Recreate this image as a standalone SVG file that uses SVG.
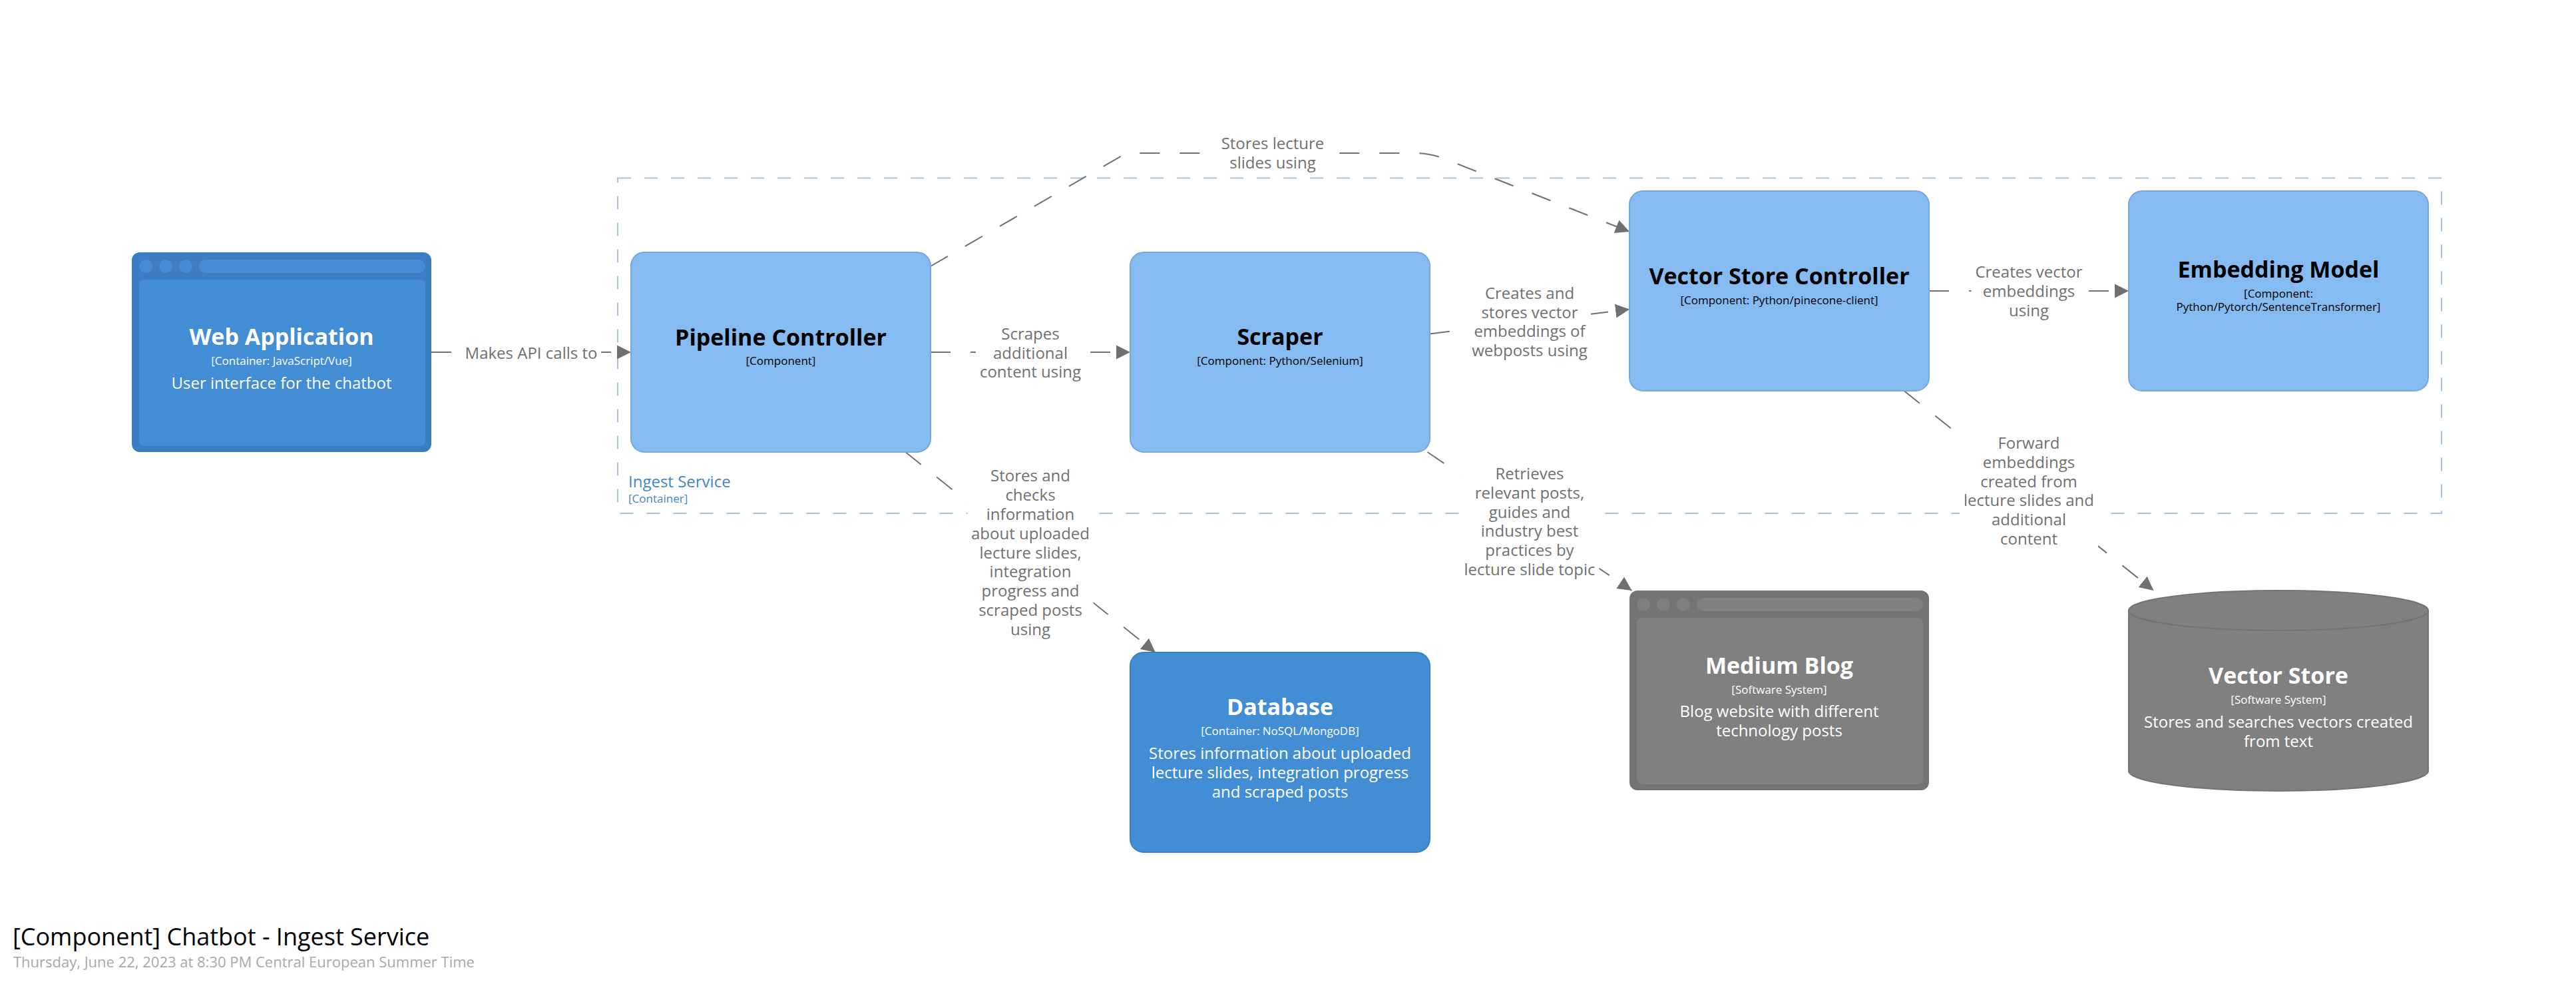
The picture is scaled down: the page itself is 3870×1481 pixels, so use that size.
<svg xmlns="http://www.w3.org/2000/svg" width="3870" height="1481" viewBox="0 0 3870 1481">
<defs>
<marker id="arrow" markerUnits="userSpaceOnUse" markerWidth="22" markerHeight="22" viewBox="0 0 22 22" refX="21" refY="11" orient="auto">
<path d="M0,0.5 L21,11 L0,21.5 Z" fill="#707070"/>
</marker>
</defs>
<style>
text{font-family:"Open Sans","DejaVu Sans",sans-serif;}
.name{font-size:34px;font-weight:700;text-anchor:middle;}
.meta{font-size:17px;text-anchor:middle;}
.desc{font-size:24px;text-anchor:middle;}
.w{fill:#ffffff;}
.k{fill:#000000;}
.comp{fill:#85bbf0;stroke:#78a8d8;stroke-width:2;}
.cont{fill:#438dd5;stroke:#3c7fc0;stroke-width:2;}
.bframe{fill:#3b7dc0;}
.bpart{fill:#438dd5;}
.gframe{fill:#737373;}
.gpart{fill:#808080;}
.edge{fill:none;stroke:#707070;stroke-width:2;stroke-dasharray:30 30;marker-end:url(#arrow);}
.lbg{fill:#ffffff;}
.lbl{font-size:24px;fill:#707070;text-anchor:middle;}
.boundary{fill:none;stroke:#a3c3e3;stroke-width:2;stroke-dasharray:20 20;}
</style>
<rect x="0" y="0" width="3870" height="1481" fill="#ffffff"/>

<g id="ingest-service-boundary">
<rect class="boundary" x="928" y="267.5" width="2740" height="503.5"/>
<text x="944" y="732" style="font-size:24px;fill:#4285cc;">Ingest Service</text>
<text x="944" y="755" style="font-size:17px;fill:#4285cc;">[Container]</text>
</g>

<g id="connectors">
<path class="edge" d="M648,529 L948,529"/>
<path class="edge" d="M1398,529 L1698,529"/>
<path class="edge" d="M1398,400 L1692,230 L2127,230 Q2149,230 2170,238.5 L2448,348"/>
<path class="edge" d="M2148,501.5 L2448,464.6"/>
<path class="edge" d="M2898,437 L3198,437"/>
<path class="edge" d="M2860.5,587 L3235.5,887"/>
<path class="edge" d="M1360.3,679 L1735.8,980"/>
<path class="edge" d="M2144.5,679 L2451.5,887"/>

<rect class="lbg" x="693" y="513" width="210" height="33"/>
<text class="lbl" x="798" y="538.5">Makes API calls to</text>

<rect class="lbg" x="1466" y="484" width="164" height="90"/>
<text class="lbl" x="1548" y="509.7">Scrapes</text>
<text class="lbl" x="1548" y="538.5">additional</text>
<text class="lbl" x="1548" y="567.3">content using</text>

<rect class="lbg" x="1830" y="199" width="165" height="62"/>
<text class="lbl" x="1912" y="224">Stores lecture</text>
<text class="lbl" x="1912" y="252.8">slides using</text>

<rect class="lbg" x="2206" y="423" width="184" height="120"/>
<text class="lbl" x="2298" y="448.8">Creates and</text>
<text class="lbl" x="2298" y="477.6">stores vector</text>
<text class="lbl" x="2298" y="506.4">embeddings of</text>
<text class="lbl" x="2298" y="535.2">webposts using</text>

<rect class="lbg" x="2961.5" y="392" width="173" height="90"/>
<text class="lbl" x="3048" y="417.2">Creates vector</text>
<text class="lbl" x="3048" y="446">embeddings</text>
<text class="lbl" x="3048" y="474.8">using</text>

<rect class="lbg" x="2944" y="648" width="208" height="178"/>
<text class="lbl" x="3048" y="674">Forward</text>
<text class="lbl" x="3048" y="702.8">embeddings</text>
<text class="lbl" x="3048" y="731.6">created from</text>
<text class="lbl" x="3048" y="760.4">lecture slides and</text>
<text class="lbl" x="3048" y="789.2">additional</text>
<text class="lbl" x="3048" y="818">content</text>

<rect class="lbg" x="1453.5" y="698" width="189" height="264"/>
<text class="lbl" x="1548" y="723.3">Stores and</text>
<text class="lbl" x="1548" y="752.1">checks</text>
<text class="lbl" x="1548" y="780.9">information</text>
<text class="lbl" x="1548" y="809.7">about uploaded</text>
<text class="lbl" x="1548" y="838.5">lecture slides,</text>
<text class="lbl" x="1548" y="867.3">integration</text>
<text class="lbl" x="1548" y="896.1">progress and</text>
<text class="lbl" x="1548" y="924.9">scraped posts</text>
<text class="lbl" x="1548" y="953.7">using</text>

<rect class="lbg" x="2193.5" y="694" width="209" height="178"/>
<text class="lbl" x="2298" y="720">Retrieves</text>
<text class="lbl" x="2298" y="748.8">relevant posts,</text>
<text class="lbl" x="2298" y="777.6">guides and</text>
<text class="lbl" x="2298" y="806.4">industry best</text>
<text class="lbl" x="2298" y="835.2">practices by</text>
<text class="lbl" x="2298" y="864">lecture slide topic</text>
</g>

<g id="web-application">
<rect class="bframe" x="198" y="379" width="450" height="300" rx="12"/>
<circle class="bpart" cx="219" cy="400" r="10"/>
<circle class="bpart" cx="249" cy="400" r="10"/>
<circle class="bpart" cx="279" cy="400" r="10"/>
<rect class="bpart" x="299" y="390" width="340" height="20" rx="10"/>
<rect class="bpart" x="209" y="420" width="430" height="250" rx="8"/>
<text class="name w" x="423" y="518">Web Application</text>
<text class="meta w" x="423" y="548">[Container: JavaScript/Vue]</text>
<text class="desc w" x="423" y="584">User interface for the chatbot</text>
</g>

<g id="pipeline-controller">
<rect class="comp" x="948" y="379" width="450" height="300" rx="20"/>
<text class="name k" x="1173" y="519">Pipeline Controller</text>
<text class="meta k" x="1173" y="548">[Component]</text>
</g>

<g id="scraper">
<rect class="comp" x="1698" y="379" width="450" height="300" rx="20"/>
<text class="name k" x="1923" y="518">Scraper</text>
<text class="meta k" x="1923" y="548">[Component: Python/Selenium]</text>
</g>

<g id="vector-store-controller">
<rect class="comp" x="2448" y="287" width="450" height="300" rx="20"/>
<text class="name k" x="2673" y="427">Vector Store Controller</text>
<text class="meta k" x="2673" y="457">[Component: Python/pinecone-client]</text>
</g>

<g id="embedding-model">
<rect class="comp" x="3198" y="287" width="450" height="300" rx="20"/>
<text class="name k" x="3423" y="417">Embedding Model</text>
<text class="meta k" x="3423" y="447">[Component:</text>
<text class="meta k" x="3423" y="467">Python/Pytorch/SentenceTransformer]</text>
</g>

<g id="database">
<rect class="cont" x="1698" y="980" width="450" height="300" rx="20"/>
<text class="name w" x="1923" y="1074">Database</text>
<text class="meta w" x="1923" y="1104">[Container: NoSQL/MongoDB]</text>
<text class="desc w" x="1923" y="1140">Stores information about uploaded</text>
<text class="desc w" x="1923" y="1168.8">lecture slides, integration progress</text>
<text class="desc w" x="1923" y="1197.6">and scraped posts</text>
</g>

<g id="medium-blog">
<rect class="gframe" x="2448" y="887" width="450" height="300" rx="12"/>
<circle class="gpart" cx="2469" cy="908" r="10"/>
<circle class="gpart" cx="2499" cy="908" r="10"/>
<circle class="gpart" cx="2529" cy="908" r="10"/>
<rect class="gpart" x="2549" y="898" width="340" height="20" rx="10"/>
<rect class="gpart" x="2459" y="928" width="430" height="250" rx="8"/>
<text class="name w" x="2673" y="1012">Medium Blog</text>
<text class="meta w" x="2673" y="1042">[Software System]</text>
<text class="desc w" x="2673" y="1077">Blog website with different</text>
<text class="desc w" x="2673" y="1105.8">technology posts</text>
</g>

<g id="vector-store">
<path d="M3198,917 A225,30 0 0 1 3648,917 L3648,1158 A225,30 0 0 1 3198,1158 Z" fill="#808080" stroke="#737373" stroke-width="2"/>
<path d="M3198,917 A225,30 0 0 0 3648,917" fill="none" stroke="#737373" stroke-width="2"/>
<text class="name w" x="3423" y="1027">Vector Store</text>
<text class="meta w" x="3423" y="1057">[Software System]</text>
<text class="desc w" x="3423" y="1093">Stores and searches vectors created</text>
<text class="desc w" x="3423" y="1121.8">from text</text>
</g>

<g id="title">
<text x="19" y="1420" style="font-size:36px;fill:#000000;">[Component] Chatbot - Ingest Service</text>
<text x="20" y="1452.5" style="font-size:22px;fill:#a8a8a8;">Thursday, June 22, 2023 at 8:30 PM Central European Summer Time</text>
</g>
</svg>
